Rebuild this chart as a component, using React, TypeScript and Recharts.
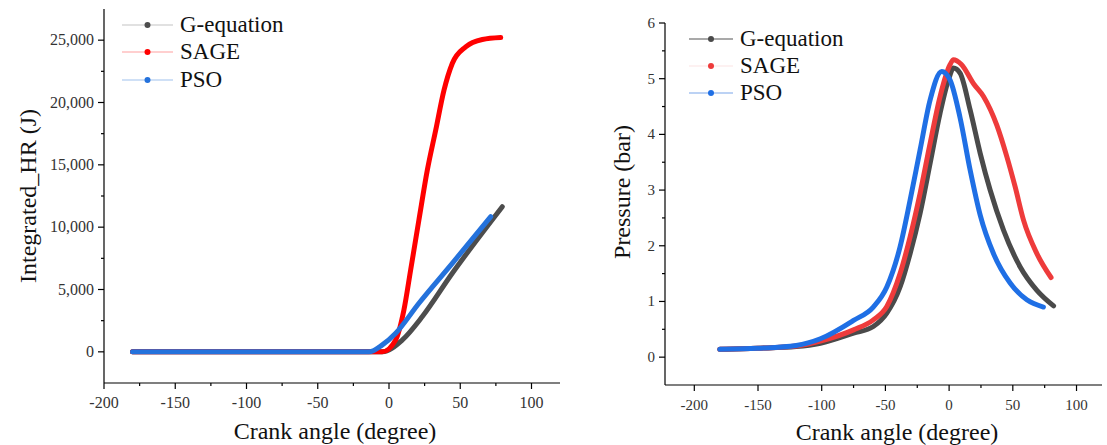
import React from "react";
import { LineChart, Line, XAxis, YAxis, Legend } from "recharts";

const FONT = "Liberation Serif";

// ---- left panel: integrated heat release (J) vs crank angle ----
const hrGeqAngle = [-180, -100, -20, -4.7, 9.4, 23.4, 44.4, 79.5];
const hrGeqValue = [0, 0, 0, 0, 960, 2830, 6300, 11640];

const hrSageAngle = [-180, -100, -12, -4.7, 4.7, 10.5, 15.2, 21, 26.9, 32.8, 38.6, 44.4, 53.8, 65.5, 78.4];
const hrSageValue = [0, 0, 0, 0, 960, 3370, 6570, 10580, 14580, 17790, 20990, 23130, 24460, 25050, 25210];

const hrPsoAngle = [-180, -100, -14, -4.7, 4.7, 21, 44.4, 71.4];
const hrPsoValue = [0, 0, 0, 560, 1500, 3900, 7100, 10840];

// ---- right panel: pressure (bar) vs crank angle ----
const pGeqAngle = [-180, -150, -120, -101, -75, -59.5, -48.9, -38.5, -30.6, -22.8, -14.9, -7.1, -0.5, 3.4, 8.6, 16.5, 24.4, 32.2, 42.7, 55.8, 68.9, 82];
const pGeqValue = [0.14, 0.16, 0.19, 0.25, 0.43, 0.55, 0.79, 1.26, 1.86, 2.58, 3.48, 4.38, 4.98, 5.19, 5.1, 4.44, 3.66, 3.0, 2.28, 1.62, 1.2, 0.92];

const pSageAngle = [-180, -150, -120, -101, -75, -59.5, -48.9, -38.5, -30.6, -22.8, -14.9, -7.1, 0.7, 3.4, 9.5, 19.5, 27, 37.5, 45.3, 51.8, 58.4, 68.9, 80];
const pSageValue = [0.14, 0.16, 0.2, 0.29, 0.49, 0.67, 0.91, 1.5, 2.16, 2.94, 3.84, 4.68, 5.25, 5.34, 5.26, 4.9, 4.68, 4.16, 3.6, 3.06, 2.46, 1.86, 1.43];

const pPsoAngle = [-180, -150, -120, -101, -75, -59.5, -48.9, -38.5, -30.6, -22.8, -14.9, -5.8, 0.7, 8.6, 16.5, 24.4, 34.8, 47.9, 61, 74];
const pPsoValue = [0.14, 0.16, 0.21, 0.33, 0.66, 0.9, 1.26, 1.98, 2.82, 3.72, 4.62, 5.13, 4.98, 4.3, 3.36, 2.55, 1.86, 1.33, 1.03, 0.9];

// ticks (minor ones included, labels only on majors)
const angleTicks = [-200, -175, -150, -125, -100, -75, -50, -25, 0, 25, 50, 75, 100];
const hrTicks = [0, 2500, 5000, 7500, 10000, 12500, 15000, 17500, 20000, 22500, 25000];
const pTicks = [0, 0.5, 1, 1.5, 2, 2.5, 3, 3.5, 4, 4.5, 5, 5.5, 6];

const toPoints = (xs: number[], ys: number[]) => xs.map((x, i) => ({ x, y: ys[i] }));

function XTick(props: any) {
  const { x, y, payload, fontSize } = props;
  const v = payload.value;
  const major = v % 50 === 0;
  return (
    <g>
      <line x1={x} y1={y} x2={x} y2={y + (major ? 6 : 3)} stroke="#000" strokeWidth={1.2} />
      {major && (
        <text x={x} y={y + 25} textAnchor="middle" fontFamily={FONT} fontSize={fontSize} fill="#333">
          {v}
        </text>
      )}
    </g>
  );
}

function YTick(props: any) {
  const { x, y, payload, fontSize, step, fmt } = props;
  const v = payload.value;
  const major = Math.abs(v / step - Math.round(v / step)) < 1e-6;
  return (
    <g>
      <line x1={x} y1={y} x2={x - (major ? 6 : 3)} y2={y} stroke="#000" strokeWidth={1.2} />
      {major && (
        <text x={x - 10} y={y} dy={5} textAnchor="end" fontFamily={FONT} fontSize={fontSize} fill="#333">
          {fmt(v)}
        </text>
      )}
    </g>
  );
}

type LegendItem = { name: string; dot: string; line: string };

function LegendBox({ items, lineW, rowH, fontSize }: { items: LegendItem[]; lineW: number; rowH: number; fontSize: number }) {
  return (
    <div style={{ fontFamily: FONT, fontSize, color: "#111" }}>
      {items.map((it) => (
        <div key={it.name} style={{ display: "flex", alignItems: "center", height: rowH }}>
          <svg width={lineW} height={10} style={{ marginRight: 7 }}>
            <line x1={0} y1={5} x2={lineW} y2={5} stroke={it.line} strokeWidth={1.2} />
            <circle cx={lineW / 2} cy={5} r={3} fill={it.dot} />
          </svg>
          <span>{it.name}</span>
        </div>
      ))}
    </div>
  );
}

const axisTitle = (text: string, x: number, y: number, rotate = false) => (
  <text
    x={x}
    y={y}
    dy={8}
    textAnchor="middle"
    fontFamily={FONT}
    fontSize={24}
    fill="#111"
    transform={rotate ? `rotate(-90, ${x}, ${y})` : undefined}
  >
    {text}
  </text>
);

const leftLegend: LegendItem[] = [
  { name: "G-equation", dot: "#4d4d4d", line: "#c4c4c4" },
  { name: "SAGE", dot: "#ff0000", line: "#ffa0a0" },
  { name: "PSO", dot: "#2472dc", line: "#a0c2ee" },
];

const rightLegend: LegendItem[] = [
  { name: "G-equation", dot: "#4a4a4a", line: "#555555" },
  { name: "SAGE", dot: "#ee3b3b", line: "#fbe3e3" },
  { name: "PSO", dot: "#1f6fe5", line: "#7aa6ea" },
];

export default function App() {
  return (
    <div style={{ position: "absolute", left: 0, top: 0, width: 1107, height: 445, background: "#fff", fontFamily: FONT }}>
      <div style={{ position: "absolute", left: 0, top: 0 }}>
        <LineChart width={570} height={445} margin={{ top: 9, right: 10, bottom: 0, left: 0 }} style={{ fontFamily: FONT }}>
          <XAxis
            dataKey="x"
            type="number"
            domain={[-200, 120]}
            ticks={angleTicks}
            allowDataOverflow
            height={62}
            axisLine={{ stroke: "#000", strokeWidth: 1.2 }}
            tickLine={false}
            tickSize={0}
            tickMargin={0}
            tick={(p: any) => <XTick {...p} fontSize={16} />}
            label={{ content: () => axisTitle("Crank angle (degree)", 335, 431) }}
          />
          <YAxis
            dataKey="y"
            type="number"
            domain={[-2500, 27500]}
            ticks={hrTicks}
            allowDataOverflow
            width={104}
            axisLine={{ stroke: "#000", strokeWidth: 1.2 }}
            tickLine={false}
            tickSize={0}
            tickMargin={0}
            tick={(p: any) => <YTick {...p} fontSize={16} step={5000} fmt={(v: number) => v.toLocaleString("en-US")} />}
            label={{ content: () => axisTitle("Integrated_HR (J)", 28, 196, true) }}
          />
          <Legend
            layout="vertical"
            align="center"
            verticalAlign="middle"
            wrapperStyle={{ left: 122, top: 11, width: 220 }}
            content={() => <LegendBox items={leftLegend} lineW={51} rowH={27.5} fontSize={23} />}
          />
          <Line data={toPoints(hrGeqAngle, hrGeqValue)} dataKey="y" name="G-equation" type="monotone" stroke="#4d4d4d" strokeWidth={5} strokeLinecap="round" dot={false} isAnimationActive={false} />
          <Line data={toPoints(hrSageAngle, hrSageValue)} dataKey="y" name="SAGE" type="monotone" stroke="#ff0000" strokeWidth={5} strokeLinecap="round" dot={false} isAnimationActive={false} />
          <Line data={toPoints(hrPsoAngle, hrPsoValue)} dataKey="y" name="PSO" type="monotone" stroke="#2472dc" strokeWidth={5} strokeLinecap="round" dot={false} isAnimationActive={false} />
        </LineChart>
      </div>
      <div style={{ position: "absolute", left: 560, top: 0 }}>
        <LineChart width={547} height={445} margin={{ top: 23, right: 5, bottom: 0, left: 0 }} style={{ fontFamily: FONT }}>
          <XAxis
            dataKey="x"
            type="number"
            domain={[-223, 120]}
            ticks={angleTicks}
            allowDataOverflow
            height={60}
            axisLine={{ stroke: "#000", strokeWidth: 1.2 }}
            tickLine={false}
            tickSize={0}
            tickMargin={0}
            tick={(p: any) => <XTick {...p} fontSize={15} />}
            label={{ content: () => axisTitle("Crank angle (degree)", 337, 432) }}
          />
          <YAxis
            dataKey="y"
            type="number"
            domain={[-0.5, 6]}
            ticks={pTicks}
            allowDataOverflow
            width={105}
            axisLine={{ stroke: "#000", strokeWidth: 1.2 }}
            tickLine={false}
            tickSize={0}
            tickMargin={0}
            tick={(p: any) => <YTick {...p} fontSize={15} step={1} fmt={(v: number) => String(v)} />}
            label={{ content: () => axisTitle("Pressure (bar)", 62, 192, true) }}
          />
          <Legend
            layout="vertical"
            align="center"
            verticalAlign="middle"
            wrapperStyle={{ left: 129, top: 25, width: 220 }}
            content={() => <LegendBox items={rightLegend} lineW={44} rowH={27} fontSize={23} />}
          />
          <Line data={toPoints(pGeqAngle, pGeqValue)} dataKey="y" name="G-equation" type="monotone" stroke="#4a4a4a" strokeWidth={5} strokeLinecap="round" dot={false} isAnimationActive={false} />
          <Line data={toPoints(pSageAngle, pSageValue)} dataKey="y" name="SAGE" type="monotone" stroke="#ee3b3b" strokeWidth={5} strokeLinecap="round" dot={false} isAnimationActive={false} />
          <Line data={toPoints(pPsoAngle, pPsoValue)} dataKey="y" name="PSO" type="monotone" stroke="#1f6fe5" strokeWidth={5} strokeLinecap="round" dot={false} isAnimationActive={false} />
        </LineChart>
      </div>
    </div>
  );
}
